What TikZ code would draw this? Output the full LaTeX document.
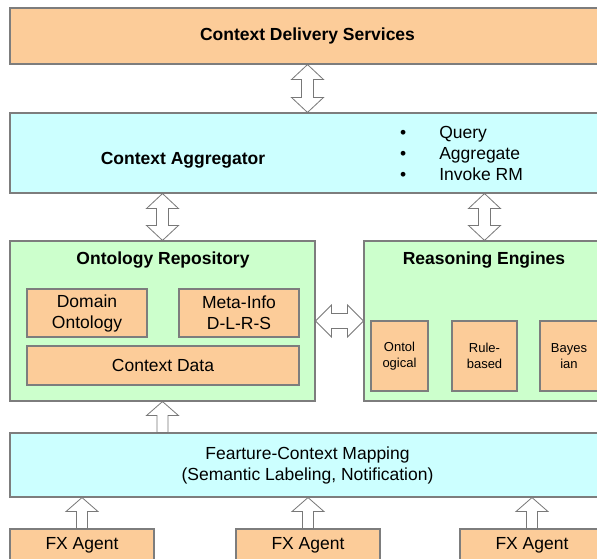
\documentclass[tikz,border=0pt]{standalone}
\usepackage{fontspec}
\setmainfont{Liberation Sans}
\usetikzlibrary{calc}

\definecolor{boxorange}{RGB}{252,204,153}
\definecolor{boxcyan}{RGB}{204,255,255}
\definecolor{boxgreen}{RGB}{204,255,204}
\definecolor{edgegray}{RGB}{125,125,125}
\definecolor{arrowgray}{RGB}{120,120,120}

\tikzset{
  box/.style={draw=edgegray, line width=1.1pt, rectangle, inner sep=0pt,
    align=center, font=\fontsize{17.5}{21}\selectfont},
  orangebox/.style={box, fill=boxorange},
  cyanbox/.style={box, fill=boxcyan},
  greenbox/.style={box, fill=boxgreen},
  smallbox/.style={orangebox, font=\fontsize{13}{15.7}\selectfont},
  label/.style={inner sep=0pt, align=center, font=\fontsize{17.5}{21}\selectfont},
  title/.style={label, font=\fontsize{17.5}{21}\selectfont\bfseries},
  blockarrow/.style={draw=arrowgray, fill=white, line width=0.8pt, line join=miter},
}

% vertical two-headed block arrow: #1 upper tip, #2 lower tip
\newcommand\dblvert[2]{%
  \draw[blockarrow] let \p1=(#1), \p2=(#2) in
    (\x1,\y1) -- (\x1+16pt,\y1-15pt) -- (\x1+6pt,\y1-15pt) -- (\x1+6pt,\y2+15pt)
    -- (\x1+16pt,\y2+15pt) -- (\x1,\y2) -- (\x1-16pt,\y2+15pt) -- (\x1-6pt,\y2+15pt)
    -- (\x1-6pt,\y1-15pt) -- (\x1-16pt,\y1-15pt) -- cycle;}

% horizontal two-headed block arrow: #1 left tip, #2 right tip
\newcommand\dblhorz[2]{%
  \draw[blockarrow] let \p1=(#1), \p2=(#2) in
    (\x1,\y1) -- (\x1+16pt,\y1+16pt) -- (\x1+16pt,\y1+7.5pt) -- (\x2-16pt,\y1+7.5pt)
    -- (\x2-16pt,\y1+16pt) -- (\x2,\y1) -- (\x2-16pt,\y1-16pt) -- (\x2-16pt,\y1-7.5pt)
    -- (\x1+16pt,\y1-7.5pt) -- (\x1+16pt,\y1-16pt) -- cycle;}

% upward block arrow: #1 tip, #2 foot of the shaft
\newcommand\uparr[2]{%
  \draw[blockarrow] let \p1=(#1), \p2=(#2) in
    (\x1,\y1) -- (\x1+16pt,\y1-14pt) -- (\x1+5.5pt,\y1-14pt) -- (\x1+5.5pt,\y2)
    -- (\x1-5.5pt,\y2) -- (\x1-5.5pt,\y1-14pt) -- (\x1-16pt,\y1-14pt) -- cycle;}

\begin{document}
\begin{tikzpicture}[x=1pt,y=-1pt]
\useasboundingbox (0,0) rectangle (597,559);
\clip (0,0) rectangle (597,559);
\fill[white] (0,0) rectangle (597,559);

% top layer
\node[orangebox, minimum width=595pt, minimum height=56pt,
  font=\fontsize{17.5}{21}\selectfont\bfseries] (cds) at (307.5,36) {Context Delivery Services};

% aggregator
\node[cyanbox, minimum width=595pt, minimum height=80pt] (agg) at (307.5,153) {};
\node[title] (aggt) at (183,160) {Context Aggregator};
\node[label, anchor=west, align=left] (ops) at (400,153)
  {\textbullet\hspace{33pt}Query\\\textbullet\hspace{33pt}Aggregate\\\textbullet\hspace{33pt}Invoke RM};

% ontology repository
\node[greenbox, minimum width=305pt, minimum height=160pt] (ont) at (162.5,321) {};
\node[title] (ontt) at (163,260) {Ontology Repository};
\node[orangebox, minimum width=120pt, minimum height=48pt] (dom) at (87,313) {Domain\\Ontology};
\node[orangebox, minimum width=120pt, minimum height=48pt] (meta) at (239,313) {Meta-Info\\D-L-R-S};
\node[orangebox, minimum width=272pt, minimum height=39pt] (cdata) at (163,365.5) {Context Data};

% reasoning engines
\node[greenbox, minimum width=241pt, minimum height=160pt] (reas) at (484.5,321) {};
\node[title] (reast) at (484,260) {Reasoning Engines};
\node[smallbox, minimum width=57pt, minimum height=70pt] (ontol) at (399.5,356) {Ontol\\ogical};
\node[smallbox, minimum width=65pt, minimum height=70pt] (rule) at (484.5,356) {Rule-\\based};
\node[smallbox, minimum width=58pt, minimum height=70pt] (bayes) at (569,356) {Bayes\\ian};

% feature mapping
\node[cyanbox, minimum width=595pt, minimum height=64pt] (feat) at (307.5,465)
  {Fearture-Context Mapping\\(Semantic Labeling, Notification)};

% agents
\node[orangebox, minimum width=144pt, minimum height=32pt] (fx1) at (82,545) {FX Agent};
\node[orangebox, minimum width=144pt, minimum height=32pt] (fx2) at (308,545) {FX Agent};
\node[orangebox, minimum width=144pt, minimum height=32pt] (fx3) at (532,545) {FX Agent};

% connectors
\dblvert{cds.south}{agg.north}
\dblvert{agg.south -| ont.north}{ont.north}
\dblvert{agg.south -| reas.north}{reas.north}
\dblhorz{ont.east}{reas.west}
\uparr{ont.south}{feat.north -| ont.south}
\uparr{feat.south -| fx1.north}{fx1.north}
\uparr{feat.south -| fx2.north}{fx2.north}
\uparr{feat.south -| fx3.north}{fx3.north}
\end{tikzpicture}
\end{document}
